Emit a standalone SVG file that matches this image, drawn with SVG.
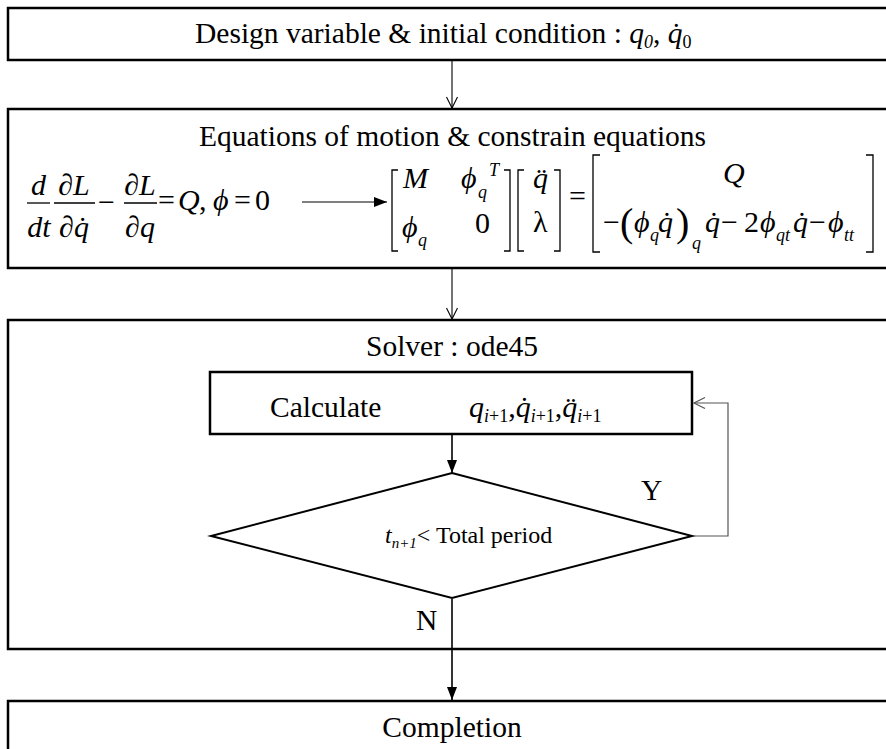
<svg xmlns="http://www.w3.org/2000/svg" width="886" height="749" viewBox="0 0 886 749" font-family="'Liberation Serif', 'DejaVu Serif', serif">
<defs>
<style>
text{font-family:"Liberation Serif","DejaVu Serif",serif;fill:#000}
.t{font-size:29.5px}
.m{font-size:30px}
.i{font-style:italic}
.s{font-size:18px}
.box{fill:#fff;stroke:#000;stroke-width:2.5}
.thin{fill:none;stroke:#000;stroke-width:1.1}
.loop{fill:none;stroke:#555;stroke-width:1.2}
.bold{fill:none;stroke:#000;stroke-width:1.6}
.br{fill:none;stroke:#000;stroke-width:1.3}
</style>
<marker id="open" markerWidth="14" markerHeight="14" refX="12" refY="7" orient="auto" markerUnits="userSpaceOnUse">
<path d="M1,1.5 L12,7 L1,12.5" fill="none" stroke="#000" stroke-width="1.1"/>
</marker>
<marker id="openg" markerWidth="14" markerHeight="14" refX="12" refY="7" orient="auto" markerUnits="userSpaceOnUse">
<path d="M1,1.5 L12,7 L1,12.5" fill="none" stroke="#555" stroke-width="1.2"/>
</marker>
<marker id="fill" markerWidth="14" markerHeight="12" refX="13" refY="6" orient="auto" markerUnits="userSpaceOnUse">
<path d="M0,1 L13,6 L0,11 Z" fill="#000"/>
</marker>
</defs>

<g id="box1">
<rect class="box" x="8" y="8" width="900" height="52"/>
<text class="t" x="195" y="43">Design variable &amp; initial condition : <tspan class="i">q</tspan><tspan class="i" font-size="18" dy="5">0</tspan><tspan dy="-5">, </tspan><tspan class="i">q̇</tspan><tspan font-size="18" dy="5">0</tspan></text>
</g>

<g id="box2">
<rect class="box" x="8" y="109" width="900" height="159"/>
<text class="t" x="452.5" y="146" text-anchor="middle" font-size="30">Equations of motion &amp; constrain equations</text>
<text class="m i" x="38.5" y="195" text-anchor="middle">d</text>
<line class="br" x1="27" y1="203" x2="50" y2="203"/>
<text class="m i" x="39" y="237" text-anchor="middle">dt</text>
<text class="m" x="74" y="195" text-anchor="middle">∂<tspan class="i">L</tspan></text>
<line class="br" x1="54" y1="203" x2="95" y2="203"/>
<text class="m" x="74" y="237" text-anchor="middle">∂<tspan class="i">q̇</tspan></text>
<text class="m" x="98" y="212">−</text>
<text class="m" x="140" y="195" text-anchor="middle">∂<tspan class="i">L</tspan></text>
<line class="br" x1="124" y1="203" x2="157" y2="203"/>
<text class="m" x="140" y="237" text-anchor="middle">∂<tspan class="i">q</tspan></text>
<text class="m" x="158" y="210">=</text>
<text class="m i" x="178" y="210">Q</text>
<text class="m" x="199" y="210">,</text>
<text class="m i" x="213" y="210">ϕ</text>
<text class="m" x="234" y="210">=</text>
<text class="m" x="255" y="210">0</text>
<path class="br" d="M398,170 H392 V251 H398"/>
<path class="br" d="M504,170 H510 V251 H504"/>
<text class="m i" x="403" y="188">M</text>
<text class="m i" x="461" y="188">ϕ</text>
<text class="s i" x="478" y="198">q</text>
<text class="s i" x="489" y="176">T</text>
<text class="m i" x="402" y="237">ϕ</text>
<text class="s i" x="418" y="246">q</text>
<text class="m" x="475" y="233">0</text>
<path class="br" d="M524,170 H518 V251 H524"/>
<path class="br" d="M554,170 H560 V251 H554"/>
<text class="m i" x="533" y="188">q̈</text>
<text class="m" x="533" y="232">λ</text>
<text class="m" x="569" y="206">=</text>
<path class="br" d="M600,155 H593 V252 H600"/>
<path class="br" d="M866,155 H873 V252 H866"/>
<text class="m i" x="723" y="183">Q</text>
<text class="m" x="603" y="232">−</text>
<text x="620" y="236" font-size="40">(</text>
<text class="m i" x="634" y="232">ϕ</text>
<text class="s i" x="650" y="241">q</text>
<text class="m i" x="658" y="232">q̇</text>
<text x="676" y="236" font-size="40">)</text>
<text class="s i" x="692" y="249">q</text>
<text class="m i" x="705" y="232">q̇</text>
<text class="m" x="721" y="232">−</text>
<text class="m" x="744" y="232">2</text>
<text class="m i" x="760" y="232">ϕ</text>
<text class="s i" x="776" y="241">qt</text>
<text class="m i" x="793" y="232">q̇</text>
<text class="m" x="809" y="232">−</text>
<text class="m i" x="828" y="232">ϕ</text>
<text class="s i" x="844" y="241">tt</text>
</g>

<g id="box3">
<rect class="box" x="8" y="320" width="900" height="329"/>
<text class="t" x="452" y="356" text-anchor="middle">Solver : ode45</text>
</g>

<g id="calc">
<rect class="box" x="210" y="372" width="482" height="62"/>
<text class="t" x="270" y="417">Calculate</text>
<text class="m" x="469" y="417"><tspan class="i">q</tspan><tspan class="s i" dy="5">i</tspan><tspan class="s">+1</tspan><tspan dy="-5">,</tspan><tspan class="i">q̇</tspan><tspan class="s i" dy="5">i</tspan><tspan class="s">+1</tspan><tspan dy="-5">,</tspan><tspan class="i">q̈</tspan><tspan class="s i" dy="5">i</tspan><tspan class="s">+1</tspan></text>
</g>

<g id="decision">
<polygon points="452,473 692,536 452,598 211,536" fill="#fff" stroke="#000" stroke-width="2"/>
<text x="385" y="543" font-size="24"><tspan class="i">t</tspan><tspan class="i" font-size="15" dy="5">n+1</tspan><tspan dy="-5">&lt; Total period</tspan></text>
</g>

<g id="labels">
<text class="t" x="641" y="500">Y</text>
<text class="t" x="416" y="630">N</text>
</g>

<g id="box4">
<rect class="box" x="8" y="701" width="900" height="60"/>
<text class="t" x="452" y="737" text-anchor="middle">Completion</text>
</g>

<g id="connectors">
<line class="thin" x1="452" y1="61" x2="452" y2="108" marker-end="url(#open)"/>
<line class="thin" x1="452" y1="269" x2="452" y2="319" marker-end="url(#open)"/>
<line class="thin" x1="302" y1="202" x2="387" y2="202" marker-end="url(#fill)"/>
<line class="bold" x1="452" y1="435" x2="452" y2="473" marker-end="url(#fill)"/>
<polyline class="loop" points="693,536 728,536 728,403 694,403" marker-end="url(#openg)"/>
<line class="bold" x1="452" y1="599" x2="452" y2="700" marker-end="url(#fill)"/>
</g>
</svg>
